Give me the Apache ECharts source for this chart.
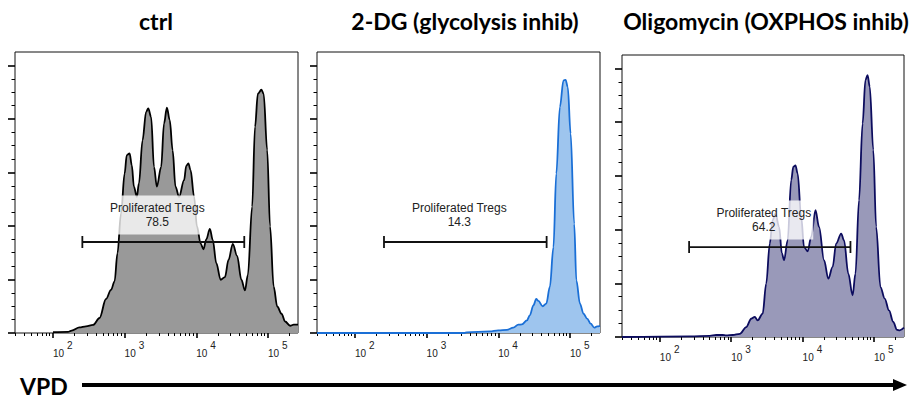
<!DOCTYPE html>
<html>
<head>
<meta charset="utf-8">
<script src="https://cdn.jsdelivr.net/npm/echarts@6/dist/echarts.min.js"></script>
<style>
  html, body { margin: 0; padding: 0; background: #fff; }
  #chart { width: 910px; height: 401px; }
</style>
</head>
<body>
<div id="chart"></div>
<script>
// ---------- data (x = log10 VPD intensity, y = normalized count) ----------
const panelTitles = ['ctrl', '2-DG (glycolysis inhib)', 'Oligomycin (OXPHOS inhib)'];
const axisTitle = 'VPD';
const gateName = 'Proliferated Tregs';
const gatePct = ['78.5', '14.3', '64.2'];
const gateLow = [2.41, 2.405, 2.41];
const gateHigh = [4.67, 4.675, 4.67];
const gateLevel = [34, 34, 33.5];

const majorDecades = [2, 3, 4, 5];
const tickBase = '10';
const tickExponents = ['2', '3', '4', '5'];

const ctrlX = [2.00,2.21,2.26,2.37,2.46,2.56,2.65,2.74,2.81,2.86,2.90,2.95,3.00,3.03,3.07,3.10,3.13,3.17,3.20,3.25,3.30,3.33,3.37,3.41,3.45,3.51,3.55,3.59,3.63,3.67,3.71,3.76,3.83,3.86,3.89,3.92,3.97,4.01,4.06,4.10,4.14,4.19,4.23,4.28,4.34,4.40,4.45,4.51,4.57,4.63,4.68,4.72,4.78,4.82,4.86,4.91,4.94,4.99,5.03,5.08,5.13,5.19,5.24,5.31,5.36,5.42];
const ctrlY = [0.3,0.4,0.9,2.1,2.5,3.0,5.6,12.7,16.1,19.3,29.8,44.7,59.6,66.5,67.1,62.7,54.7,50.9,55.9,72.0,82.6,83.9,80.7,62.1,54.7,62.1,78.3,84.2,79.5,68.3,54.7,50.9,57.1,62.4,63.4,60.9,50.9,39.8,33.5,31.3,35.0,38.9,34.8,26.1,19.9,20.9,27.3,33.3,28.8,19.9,15.9,21.7,47.2,77.0,89.4,90.9,89.4,68.3,39.8,17.4,9.9,7.2,4.3,2.7,3.1,3.1];

const dgX = [1.47,3.53,3.56,3.88,4.00,4.12,4.21,4.28,4.33,4.40,4.44,4.49,4.53,4.56,4.62,4.67,4.72,4.77,4.81,4.86,4.91,4.94,4.97,5.01,5.06,5.09,5.14,5.19,5.24,5.29,5.34,5.38,5.42];
const dgY = [0,0,0.25,0.6,1.0,1.2,2.0,3.1,3.2,4.7,6.6,10.3,12.7,12.0,10.0,11.0,17.2,32.1,59.5,84.4,94.4,94.6,91.9,74.5,40.8,19.7,11.0,7.2,5.4,3.5,2.0,2.5,2.7];

const oligoX = [1.47,2.42,2.70,2.79,2.88,2.93,3.02,3.12,3.21,3.28,3.33,3.37,3.44,3.49,3.54,3.58,3.62,3.67,3.71,3.74,3.79,3.84,3.87,3.90,3.93,3.98,4.02,4.07,4.12,4.18,4.23,4.30,4.36,4.42,4.47,4.54,4.58,4.64,4.70,4.74,4.79,4.84,4.88,4.91,4.94,4.99,5.03,5.09,5.15,5.21,5.27,5.32,5.36,5.42];
const oligoY = [0,0.25,0.4,0.75,0.75,0.6,0.75,1.2,3.7,6.8,7.5,6.2,8.7,19.9,34.8,43.5,46.0,41.0,31.1,28.6,36.0,58.4,63.4,63.9,60.9,44.7,33.5,31.9,37.3,47.2,41.0,28.6,21.7,26.1,34.8,38.5,36.0,23.6,15.5,23.6,50.9,79.5,95.7,97.5,93.2,69.6,41.0,18.6,14.3,9.9,5.6,2.7,2.5,3.5];

// ---------- chart ----------
const seriesX = [ctrlX, dgX, oligoX];
const seriesY = [ctrlY, dgY, oligoY];
const lineColors = ['#000000', '#1a6fd6', '#0c0c5e'];
const fillColors = ['#999999', '#9ec5ee', '#9999b9'];
const grids = [
  { left: 15, top: 52, width: 283, height: 281 },
  { left: 317, top: 52, width: 283, height: 281 },
  { left: 622, top: 55, width: 282, height: 282 }
];
const titleCenters = [156, 465, 766];
const X_MIN = 1.47, X_MAX = 5.42;

const minorX = [];
for (let d = 1; d <= 5; d++) {
  for (let m = 2; m <= 9; m++) {
    const v = d + Math.log10(m);
    if (v > X_MIN && v < X_MAX) minorX.push(v);
  }
}
const majorY = [0, 20, 40, 60, 80, 100];
const minorY = [];
for (let v = 5; v < 100; v += 5) if (v % 20 !== 0) minorY.push(v);

const xAxes = [], yAxes = [], series = [];
grids.forEach((g, i) => {
  xAxes.push({
    gridIndex: i, type: 'value', min: X_MIN, max: X_MAX, position: 'bottom',
    axisLine: { show: false }, splitLine: { show: false },
    axisTick: { show: true, customValues: majorDecades, length: 5, lineStyle: { color: '#000', width: 1.6 } },
    axisLabel: {
      show: true, customValues: majorDecades, margin: 7, align: 'left',
      formatter: (v) => '{a|' + tickBase + '}{b|' + tickExponents[majorDecades.indexOf(Math.round(v))] + '}',
      rich: {
        a: { fontSize: 10, fontFamily: 'Liberation Sans', color: '#222', lineHeight: 18, verticalAlign: 'bottom' },
        b: { fontSize: 10, fontFamily: 'Liberation Sans', color: '#222', lineHeight: 10, verticalAlign: 'top', padding: [0, 0, 0, 3] }
      }
    }
  });
  xAxes.push({
    gridIndex: i, type: 'value', min: X_MIN, max: X_MAX, position: 'bottom',
    axisLine: { show: false }, splitLine: { show: false }, axisLabel: { show: false },
    axisTick: { show: true, customValues: minorX, length: 3, lineStyle: { color: '#000', width: 1 } }
  });
  yAxes.push({
    gridIndex: i, type: 'value', min: 0, max: 105, position: 'left',
    axisLine: { show: false }, splitLine: { show: false }, axisLabel: { show: false },
    axisTick: { show: true, customValues: majorY, length: 7, lineStyle: { color: '#000', width: 1.6 } }
  });
  yAxes.push({
    gridIndex: i, type: 'value', min: 0, max: 105, position: 'left',
    axisLine: { show: false }, splitLine: { show: false }, axisLabel: { show: false },
    axisTick: { show: true, customValues: minorY, length: 3.5, lineStyle: { color: '#000', width: 1 } }
  });
  series.push({
    type: 'line', xAxisIndex: i * 2, yAxisIndex: i * 2,
    data: seriesX[i].map((x, k) => [x, seriesY[i][k]]),
    smooth: 0.35, smoothMonotone: 'x', showSymbol: false, silent: true,
    lineStyle: { color: lineColors[i], width: 1.8 },
    areaStyle: { color: fillColors[i], opacity: 1 },
    z: 2
  });
  series.push({
    type: 'custom', xAxisIndex: i * 2, yAxisIndex: i * 2, z: 5, silent: true,
    data: [[gateLow[i], gateHigh[i], gateLevel[i]]],
    renderItem: (params, api) => {
      const p0 = api.coord([api.value(0), api.value(2)]);
      const p1 = api.coord([api.value(1), api.value(2)]);
      const st = { stroke: '#111', lineWidth: 1.8 };
      return {
        type: 'group', children: [
          { type: 'line', shape: { x1: p0[0], y1: p0[1], x2: p1[0], y2: p1[1] }, style: st },
          { type: 'line', shape: { x1: p0[0], y1: p0[1] - 6, x2: p0[0], y2: p0[1] + 6 }, style: st },
          { type: 'line', shape: { x1: p1[0], y1: p1[1] - 6, x2: p1[0], y2: p1[1] + 6 }, style: st },
          {
            type: 'text', x: (p0[0] + p1[0]) / 2 - 6, y: p0[1] - 27,
            style: {
              text: gateName + '\n' + gatePct[i], align: 'center', verticalAlign: 'middle',
              fill: '#222', fontSize: 12, fontFamily: 'Liberation Sans', lineHeight: 14.5,
              backgroundColor: 'rgba(255,255,255,0.78)', padding: [5, 2]
            }
          }
        ]
      };
    }
  });
});

const graphics = panelTitles.map((t, i) => ({
  type: 'text', x: titleCenters[i], y: 21,
  style: { text: t, align: 'center', verticalAlign: 'middle', fill: '#000', fontSize: 23, fontWeight: 'bold', fontFamily: 'Lato' }
}));
graphics.push({
  type: 'text', x: 20, y: 386,
  style: { text: axisTitle, align: 'left', verticalAlign: 'middle', fill: '#000', fontSize: 23, fontWeight: 'bold', fontFamily: 'Lato' }
});
graphics.push({ type: 'line', shape: { x1: 82, y1: 385, x2: 895, y2: 385 }, style: { stroke: '#000', lineWidth: 4 } });
graphics.push({ type: 'polygon', shape: { points: [[893, 379], [907, 385], [893, 391]] }, style: { fill: '#000' } });

const chart = echarts.init(document.getElementById('chart'), null, { renderer: 'svg' });
chart.setOption({
  animation: false,
  grid: grids.map(g => Object.assign({ show: true, borderColor: '#111', borderWidth: 1, backgroundColor: 'transparent' }, g)),
  xAxis: xAxes,
  yAxis: yAxes,
  series: series,
  graphic: graphics
});
</script>
</body>
</html>
